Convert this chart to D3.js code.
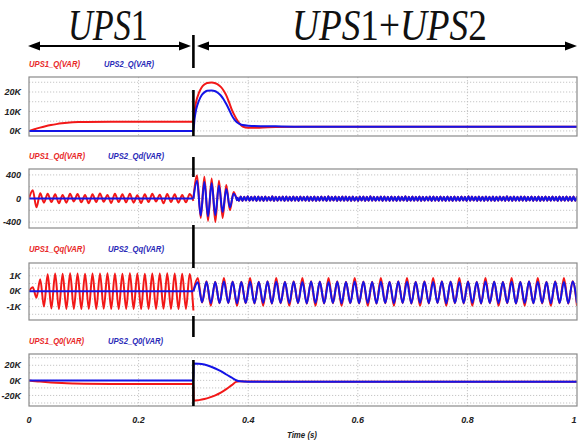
<!DOCTYPE html>
<html><head><meta charset="utf-8">
<script src="https://cdn.jsdelivr.net/npm/d3@7"></script>
<style>body{margin:0;background:#fff}svg{display:block}</style>
</head><body><svg id="c" width="578" height="443"></svg>
<script>
// ---------------- DATA ----------------
const xTicks = [0, 0.2, 0.4, 0.6, 0.8, 1];
const xTickLabels = ["0", "0.2", "0.4", "0.6", "0.8", "1"];
const xGrid = [0.2, 0.4, 0.6, 0.8];
const switchTime = 0.3;
const headerLeft = "UPS1";
const headerRight = "UPS1+UPS2";
const xTitle = "Time (s)";

const redNames = ["UPS1_Q(VAR)", "UPS1_Qd(VAR)", "UPS1_Qq(VAR)", "UPS1_Q0(VAR)"];
const blueNames = ["UPS2_Q(VAR)", "UPS2_Qd(VAR)", "UPS2_Qq(VAR)", "UPS2_Q0(VAR)"];

// Panel 1: Q (kVAR)
const qDomain = [-2.6, 27.7];
const qTicks = [0, 10, 20];
const qTickLabels = ["0K", "10K", "20K"];
const qGrid = [0, 5, 10, 15, 20, 25];
const qRed = [[0,0],[0.01,0.9],[0.02,1.7],[0.03,2.4],[0.04,3.0],[0.05,3.5],[0.06,3.9],[0.07,4.2],[0.08,4.4],[0.09,4.55],[0.1,4.6],[0.15,4.7],[0.3,4.7],[0.302,10],[0.305,15],[0.31,19.5],[0.315,22.3],[0.32,23.8],[0.325,24.6],[0.333,24.9],[0.34,24.5],[0.345,23.8],[0.35,22.6],[0.355,20.8],[0.36,18.3],[0.365,14.8],[0.37,11],[0.375,8],[0.38,5.5],[0.385,3.5],[0.39,2.2],[0.4,1.6],[0.42,1.7],[0.45,2.0],[0.5,2.2],[1,2.2]];
const qBlue = [[0,0],[0.3,0],[0.302,6],[0.305,11],[0.31,15.5],[0.315,18.3],[0.32,19.8],[0.325,20.6],[0.333,20.8],[0.34,20.4],[0.345,19.5],[0.35,18.2],[0.355,16.3],[0.36,13.8],[0.365,11],[0.37,8],[0.375,5.8],[0.38,4.3],[0.385,3.5],[0.39,3.0],[0.4,2.7],[0.45,2.4],[0.5,2.2],[1,2.2]];

// Panel 2: Qd (VAR)
const qdDomain = [-500, 500];
const qdTicks = [-400, 0, 400];
const qdTickLabels = ["-400", "0", "400"];
const qdGrid = [-400, -200, 0, 200, 400];
// 0 .. 0.3 s, equally spaced samples (half-cycles)
const qdRedStage1 = [0,140,-150,90,-70,80,-60,70,-80,60,-70,80,-50,75,-65,60,-80,70,-60,85,-55,60,-75,80,-60,70,-65,80,-70,55,-75,70,-60,80,-50,65,-80,75,-60,70,-70,60,-65,75,-40];
const qdBlueStage1 = [0, 0];
// 0.3 .. 0.38 s transient
const qdRedTransient = [0,390,-330,370,-380,340,-400,300,-330,230,-200,110,-40];
const qdBlueTransient = [0,300,-290,280,-300,260,-280,220,-230,160,-150,80,-40];
// 0.38 .. 1.0 s ripple (both units, blue drawn on top)
const qdRipple = [25,-38,34,-42,30,-36,38,-40,28,-35,36,-44,32,-37,30,-41,35,-38,27,-36,
37,-43,31,-39,29,-35,36,-42,33,-38,28,-40,35,-37,31,-43,34,-36,30,-39,
36,-41,29,-37,33,-44,30,-38,35,-36,28,-42,37,-39,31,-35,34,-43,29,-38,
35,-40,32,-37,30,-42,36,-38,27,-41,34,-36,33,-44,29,-39,37,-37,31,-40,
28,-36,35,-43,32,-38,30,-41,36,-37,29,-42,34,-39,31,-35,37,-44,30,-38,
33,-40,29,-37,36,-42,31,-39,28,-36,35,-43,32,-38,30,-41,34,-37,29,-42,
36,-39,31,-44,33,-38,28,-40,35,-36,30,-43,37,-39,32,-35,29,-41,34,-38,
31,-42,36,-37,29,-40,33,-44,30,-38,35,-36,28,-41,37,-39,31,-43,34,-37,
30,-40,35,-38,32,-42,29,-36,36,-41,31,-39,33,-44,28,-37,35,-40,30,-38,
34,-36,29,-43,36,-39,31,-40,33,-37,30,-42,32,-38,35];

// Panel 3: Qq (VAR)
const qqDomain = [-1870, 1830];
const qqTicks = [-1000, 0, 1000];
const qqTickLabels = ["-1K", "0K", "1K"];
const qqGrid = [-1500, -1000, -500, 0, 500, 1000, 1500];
const qqRedStage1 = [0,250,-420,780,-1000,1100,-1130,1150,-1160,1140,-1150,1160,-1150,1150,-1160,1140,-1150,1150,-1160,1150,-1140,1160,-1150,1150,-1160,1140,-1150,1160,-1150,1150,-1160,1140,-1150,1150,-1160,1150,-1140,1160,-1150,1150,-1160,1140,-1150,1120,-1250];
const qqBlueStage1 = [0, 0];
const qqRedStage2 = [0,
860,-740,640,-950,620,-790, 860,-780,630,-950,610,-790, 860,-800,620,-950,650,-810,
860,-790,610,-950,640,-780, 860,-810,650,-950,630,-800, 860,-780,640,-950,620,-790,
860,-800,630,-950,610,-810, 860,-790,620,-950,650,-780, 860,-810,610,-950,640,-800,
860,-780,650,-950,630,-790, 860,-800,640,-950,620,-810, 860,-790,630,-950,610,-780,
860,-810,620,-950,650,-790, 860,-800,610,-950,640,-780, 860,-810,650,-950];
const qqBlueStage2 = [0,
580,-720,620,-780,600,-770, 630,-760,610,-790,590,-770, 620,-780,600,-760,630,-790,
610,-770,590,-780,620,-760, 600,-790,630,-770,610,-780, 590,-760,620,-790,600,-770,
630,-780,610,-760,590,-790, 620,-770,600,-780,630,-760, 610,-790,590,-770,620,-780,
600,-760,630,-790,610,-770, 590,-780,620,-760,600,-790, 630,-770,610,-780,590,-760,
620,-790,600,-770,630,-780, 610,-760,590,-790,620,-770, 600,-780,630,-760];

// Panel 4: Q0 (kVAR)
const q0Domain = [-34, 35];
const q0Ticks = [-20, 0, 20];
const q0TickLabels = ["-20K", "0K", "20K"];
const q0Grid = [-30, -20, -10, 0, 10, 20, 30];
const q0Red = [[0,0],[0.02,-1.6],[0.04,-2.8],[0.06,-3.6],[0.08,-4.1],[0.1,-4.4],[0.15,-4.7],[0.3,-4.8],[0.3005,-27],[0.31,-26.2],[0.32,-24.8],[0.33,-22.6],[0.34,-19.8],[0.35,-16.2],[0.36,-11.6],[0.37,-6.3],[0.378,-2],[0.385,-1.2],[0.4,-1.5],[0.5,-1.7],[1,-1.7]];
const q0Blue = [[0,0],[0.3,0],[0.3005,22.5],[0.31,22.2],[0.32,21],[0.33,18.8],[0.34,15.8],[0.35,12.2],[0.36,7.8],[0.37,3.6],[0.378,0.2],[0.385,-1.3],[0.4,-1.7],[0.5,-1.8],[1,-1.8]];

// ---------------- LAYOUT ----------------
const W = 578, H = 443;
const plotLeft = 29, plotRight = 577;
const RED = "#f21818", BLUE = "#1414e6";
const RED_TXT = "#e82828", BLUE_TXT = "#2a2ab8";

const svg = d3.select("#c");
const x = d3.scaleLinear().domain([0, 1]).range([plotLeft, plotRight]);

function uniform(values, t0, t1) {
  const n = values.length;
  return values.map((v, i) => [t0 + i * (t1 - t0) / (n - 1), v]);
}

const panels = [
  {top: 77, bottom: 136, labelY: 64, domain: qDomain, ticks: qTicks, tickLabels: qTickLabels, grid: qGrid,
   redW: 51, blueX: 104, blueW: 50,
   red: [qRed], blue: [qBlue]},
  {top: 169, bottom: 228, labelY: 156, domain: qdDomain, ticks: qdTicks, tickLabels: qdTickLabels, grid: qdGrid,
   redW: 56, blueX: 108, blueW: 56,
   red: [uniform(qdRedStage1, 0, 0.3), uniform(qdRedTransient, 0.3, 0.38), uniform(qdRipple, 0.38, 1.0)],
   blue: [uniform(qdBlueStage1, 0, 0.3), uniform(qdBlueTransient, 0.3, 0.38), uniform(qdRipple, 0.38, 1.0)]},
  {top: 263, bottom: 320, labelY: 249, domain: qqDomain, ticks: qqTicks, tickLabels: qqTickLabels, grid: qqGrid,
   redW: 56, blueX: 108, blueW: 56,
   red: [uniform(qqRedStage1, 0, 0.3), uniform(qqRedStage2, 0.3, 1.0)],
   blue: [uniform(qqBlueStage1, 0, 0.3), uniform(qqBlueStage2, 0.3, 1.0)]},
  {top: 354, bottom: 406, labelY: 341, domain: q0Domain, ticks: q0Ticks, tickLabels: q0TickLabels, grid: q0Grid,
   redW: 55, blueX: 108, blueW: 55,
   red: [q0Red], blue: [q0Blue]}
];

const defs = svg.append("defs");

panels.forEach((p, pi) => {
  const y = d3.scaleLinear().domain(p.domain).range([p.bottom, p.top]);
  const g = svg.append("g");
  defs.append("clipPath").attr("id", "clip" + pi)
    .append("rect").attr("x", plotLeft).attr("y", p.top)
    .attr("width", plotRight - plotLeft).attr("height", p.bottom - p.top);

  // grid
  g.selectAll("line.hg").data(p.grid).join("line")
    .attr("x1", plotLeft).attr("x2", plotRight)
    .attr("y1", d => y(d)).attr("y2", d => y(d))
    .attr("stroke", "#b8b8b8").attr("stroke-width", 0.8).attr("stroke-dasharray", "1.2,1.8");
  g.selectAll("line.vg").data(xGrid).join("line")
    .attr("x1", d => x(d)).attr("x2", d => x(d))
    .attr("y1", p.top).attr("y2", p.bottom)
    .attr("stroke", "#b8b8b8").attr("stroke-width", 0.8).attr("stroke-dasharray", "1.2,1.8");

  // y tick labels
  g.selectAll("text.yt").data(p.ticks).join("text")
    .attr("x", 21).attr("y", d => y(d)).attr("dy", "0.35em")
    .attr("text-anchor", "end")
    .attr("font-family", "Liberation Sans, Arial, sans-serif")
    .attr("font-size", 9).attr("font-weight", "bold").attr("font-style", "italic")
    .attr("fill", "#222")
    .text((d, i) => p.tickLabels[i]);

  // legend labels
  g.append("text").attr("x", plotLeft).attr("y", p.labelY).attr("dy", "0.35em")
    .attr("font-family", "Liberation Sans, Arial, sans-serif")
    .attr("font-size", 9.5).attr("font-weight", "bold").attr("font-style", "italic")
    .attr("fill", RED_TXT).attr("textLength", p.redW).attr("lengthAdjust", "spacingAndGlyphs")
    .text(redNames[pi]);
  g.append("text").attr("x", p.blueX).attr("y", p.labelY).attr("dy", "0.35em")
    .attr("font-family", "Liberation Sans, Arial, sans-serif")
    .attr("font-size", 9.5).attr("font-weight", "bold").attr("font-style", "italic")
    .attr("fill", BLUE_TXT).attr("textLength", p.blueW).attr("lengthAdjust", "spacingAndGlyphs")
    .text(blueNames[pi]);

  const line = d3.line().x(d => x(d[0])).y(d => y(d[1])).curve(d3.curveMonotoneX);
  const data = g.append("g").attr("clip-path", `url(#clip${pi})`);
  p.red.forEach(s => data.append("path").attr("d", line(s)).attr("fill", "none")
    .attr("stroke", RED).attr("stroke-width", 2).attr("stroke-linejoin", "round"));
  p.blue.forEach(s => data.append("path").attr("d", line(s)).attr("fill", "none")
    .attr("stroke", BLUE).attr("stroke-width", 2).attr("stroke-linejoin", "round"));

  // frame
  g.append("rect").attr("x", plotLeft).attr("y", p.top)
    .attr("width", plotRight - plotLeft).attr("height", p.bottom - p.top)
    .attr("fill", "none").attr("stroke", "#8a8a8a").attr("stroke-width", 1.2);
});

// switching marker (thick black line segments)
const markerSegments = [[35, 68], [90, 136], [157, 177], [225, 268], [316, 337], [360, 406]];
svg.selectAll("line.mk").data(markerSegments).join("line")
  .attr("x1", x(switchTime)).attr("x2", x(switchTime))
  .attr("y1", d => d[0]).attr("y2", d => d[1])
  .attr("stroke", "#000").attr("stroke-width", 2.6);

// x tick labels
svg.selectAll("text.xt").data(xTicks).join("text")
  .attr("x", d => Math.min(x(d), W - 4)).attr("y", 420).attr("dy", "0.35em")
  .attr("text-anchor", "middle")
  .attr("font-family", "Liberation Sans, Arial, sans-serif")
  .attr("font-size", 9).attr("font-weight", "bold").attr("font-style", "italic")
  .attr("fill", "#222")
  .text((d, i) => xTickLabels[i]);
svg.append("text").attr("x", 287).attr("y", 435).attr("dy", "0.35em")
  .attr("font-family", "Liberation Sans, Arial, sans-serif")
  .attr("font-size", 9.5).attr("font-weight", "bold").attr("font-style", "italic")
  .attr("fill", "#222").attr("textLength", 30).attr("lengthAdjust", "spacingAndGlyphs")
  .text(xTitle);

// header arrows
const ay = 46;
function arrow(x1, x2) {
  svg.append("line").attr("x1", x1 + 6).attr("x2", x2 - 6).attr("y1", ay).attr("y2", ay)
    .attr("stroke", "#000").attr("stroke-width", 2.2);
  svg.append("path").attr("d", `M${x1},${ay} L${x1 + 12},${ay - 4.5} L${x1 + 12},${ay + 4.5} Z`).attr("fill", "#000");
  svg.append("path").attr("d", `M${x2},${ay} L${x2 - 12},${ay - 4.5} L${x2 - 12},${ay + 4.5} Z`).attr("fill", "#000");
}
arrow(28, 191);
arrow(197, 577);

function header(str, x0, len) {
  const g = svg.append("g");
  const t = g.append("text").attr("x", 0).attr("y", 0)
    .attr("font-family", "Liberation Serif, Times New Roman, serif")
    .attr("font-size", 45).attr("fill", "#111");
  // letters italic, digits and operators upright
  const parts = str.match(/[A-Za-z]+|[^A-Za-z]+/g);
  parts.forEach(s => t.append("tspan").attr("font-style", /[A-Za-z]/.test(s) ? "italic" : "normal").text(s));
  const natural = t.node().getComputedTextLength();
  g.attr("transform", `translate(${x0},40) scale(${len / natural},1)`);
}
header(headerLeft, 68, 80);
header(headerRight, 292, 195);
</script>
</body></html>
